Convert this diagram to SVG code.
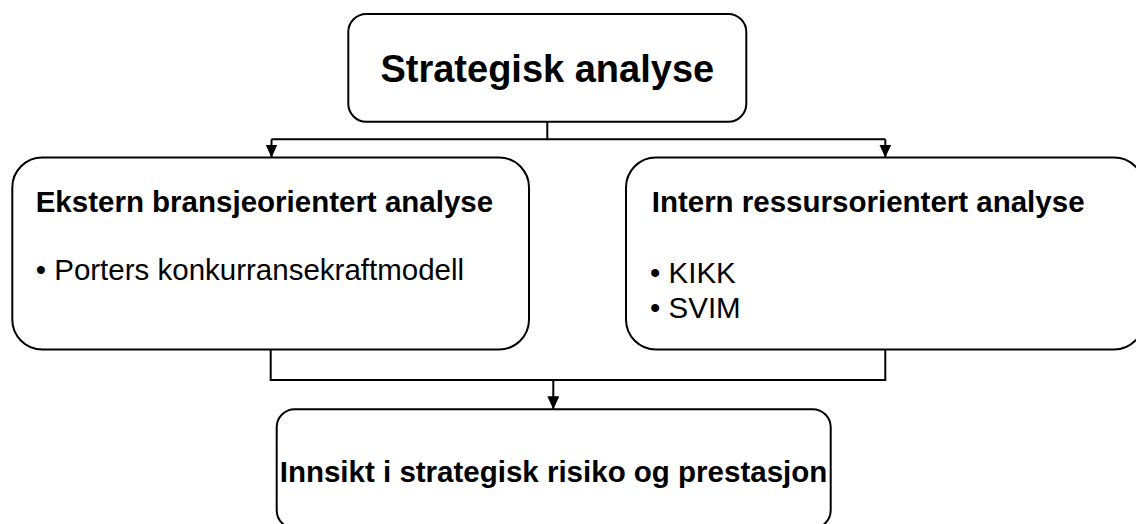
<svg xmlns="http://www.w3.org/2000/svg" width="1136" height="524" viewBox="0 0 1136 524">
  <style>
    .box { fill: #ffffff; stroke: #000000; stroke-width: 2; }
    .link { fill: none; stroke: #000000; stroke-width: 2; }
    .title { font-family: "Liberation Sans", Arial, sans-serif; font-weight: bold; fill: #000000; }
    .item { font-family: "Liberation Sans", Arial, sans-serif; font-size: 29.5px; fill: #000000; }
  </style>
  <defs>
    <!-- solid triangular head, drawn along +x so orient="auto" turns it with the line -->
    <marker id="arrow" viewBox="0 0 13 12" refX="13" refY="6" markerWidth="13" markerHeight="12" markerUnits="userSpaceOnUse" orient="auto">
      <path d="M0,0 L13,6 L0,12 Z" fill="#000000"/>
    </marker>
  </defs>

  <rect width="1136" height="524" fill="#ffffff"/>

  <!-- connectors -->
  <g id="connectors">
    <path class="link" d="M547.3,121.7 V139.3"/>
    <path class="link" d="M271.5,139.3 H885.3"/>
    <path class="link" d="M271.5,139.3 V157.5" marker-end="url(#arrow)"/>
    <path class="link" d="M885.3,139.3 V157.5" marker-end="url(#arrow)"/>
    <path class="link" d="M270.7,349.5 V380 H885.3 V349.5"/>
    <path class="link" d="M553.3,380 V409.3" marker-end="url(#arrow)"/>
  </g>

  <!-- top: strategic analysis -->
  <g id="strategisk-analyse">
    <rect class="box" x="348.3" y="14" width="398" height="107.7" rx="18" ry="18"/>
    <text class="title" x="547.3" y="81.7" font-size="38" text-anchor="middle">Strategisk analyse</text>
  </g>

  <!-- left: external analysis -->
  <g id="ekstern-analyse">
    <rect class="box" x="12.3" y="157.5" width="516.7" height="192" rx="30" ry="30"/>
    <text class="title" x="35.7" y="211.7" font-size="29.5">Ekstern bransjeorientert analyse</text>
    <text class="item" x="35.7" y="280">• Porters konkurransekraftmodell</text>
  </g>

  <!-- right: internal analysis -->
  <g id="intern-analyse">
    <rect class="box" x="626" y="157.5" width="518" height="192" rx="30" ry="30"/>
    <text class="title" x="651.7" y="211.7" font-size="29.5">Intern ressursorientert analyse</text>
    <text class="item" x="650" y="283.3">• KIKK</text>
    <text class="item" x="650" y="318.3">• SVIM</text>
  </g>

  <!-- bottom: insight -->
  <g id="innsikt">
    <rect class="box" x="276.7" y="409.3" width="554" height="119" rx="18" ry="18"/>
    <text class="title" x="553.5" y="481.7" font-size="29.5" text-anchor="middle">Innsikt i strategisk risiko og prestasjon</text>
  </g>
</svg>
